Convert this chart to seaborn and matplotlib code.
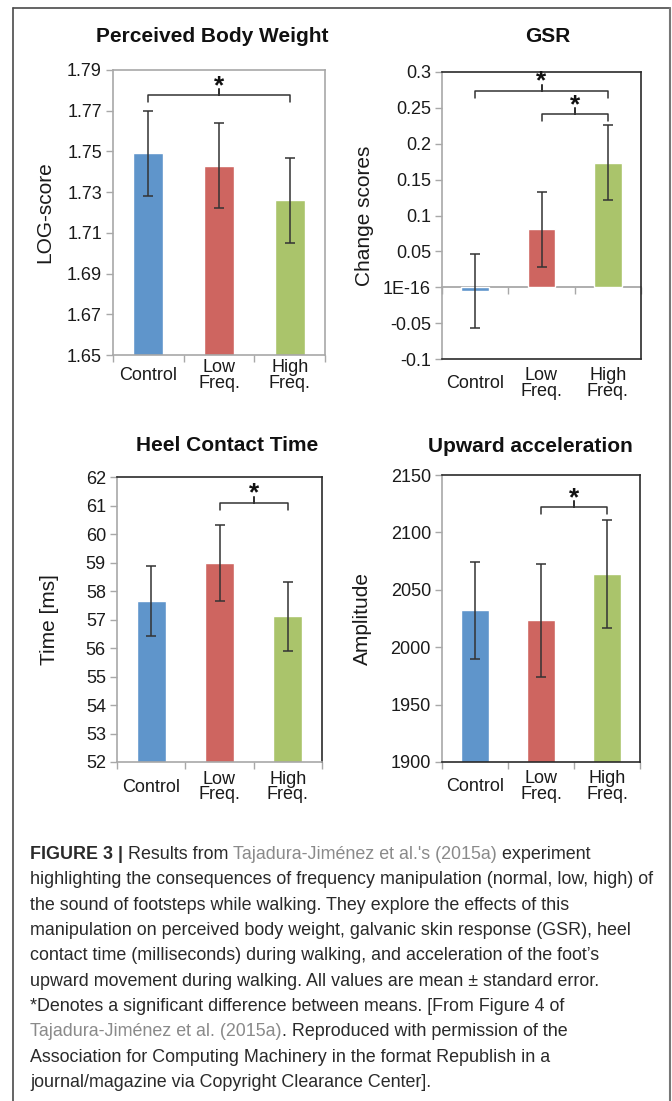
import matplotlib
matplotlib.use("Agg")
import matplotlib.pyplot as plt
import seaborn as sns
from matplotlib.lines import Line2D
from matplotlib.text import Annotation
from matplotlib.ticker import FixedLocator, FixedFormatter

# ---------------- data ----------------
categories = ["Control", "Low\nFreq.", "High\nFreq."]
bar_colors = ["#5F95CB", "#CE6560", "#AAC46B"]

pbw_means = [1.749, 1.743, 1.726]
pbw_err = [0.021, 0.021, 0.021]
pbw_ticks = [1.65, 1.67, 1.69, 1.71, 1.73, 1.75, 1.77, 1.79]
pbw_ticklabels = ["1.65", "1.67", "1.69", "1.71", "1.73", "1.75", "1.77", "1.79"]
pbw_brackets = [(0, 2, 1.7775)]

gsr_means = [-0.005, 0.0805, 0.1735]
gsr_err = [0.052, 0.052, 0.052]
gsr_ticks = [-0.1, -0.05, 0.0, 0.05, 0.1, 0.15, 0.2, 0.25, 0.3]
gsr_ticklabels = ["-0.1", "-0.05", "1E-16", "0.05", "0.1", "0.15", "0.2", "0.25", "0.3"]
gsr_brackets = [(0, 2, 0.274), (1, 2, 0.241)]

hct_means = [57.65, 58.99, 57.11]
hct_err = [1.22, 1.33, 1.20]
hct_ticks = [52, 53, 54, 55, 56, 57, 58, 59, 60, 61, 62]
hct_ticklabels = [str(t) for t in hct_ticks]
hct_brackets = [(1, 2, 61.1)]

upa_means = [2032.0, 2023.4, 2063.8]
upa_err = [42.4, 49.2, 46.7]
upa_ticks = [1900, 1950, 2000, 2050, 2100, 2150]
upa_ticklabels = [str(t) for t in upa_ticks]
upa_brackets = [(1, 2, 2122)]

titles = ["Perceived Body Weight", "GSR", "Heel Contact Time", "Upward acceleration"]
ylabels = ["LOG-score", "Change scores", "Time [ms]", "Amplitude"]

caption_lines = [
    [("FIGURE 3 |", "bold", "dark"), (" Results from ", "normal", "dark"),
     ("Tajadura-Jiménez et al.'s (2015a)", "normal", "link"), (" experiment", "normal", "dark")],
    [("highlighting the consequences of frequency manipulation (normal, low, high) of", "normal", "dark")],
    [("the sound of footsteps while walking. They explore the effects of this", "normal", "dark")],
    [("manipulation on perceived body weight, galvanic skin response (GSR), heel", "normal", "dark")],
    [("contact time (milliseconds) during walking, and acceleration of the foot\u2019s", "normal", "dark")],
    [("upward movement during walking. All values are mean \u00b1 standard error.", "normal", "dark")],
    [("*Denotes a significant difference between means. [From Figure 4 of", "normal", "dark")],
    [("Tajadura-Jiménez et al. (2015a)", "normal", "link"), (". Reproduced with permission of the", "normal", "dark")],
    [("Association for Computing Machinery in the format Republish in a", "normal", "dark")],
    [("journal/magazine via Copyright Clearance Center].", "normal", "dark")],
]

# ---------------- style ----------------
sns.set_theme(style="white")
plt.rcParams["font.family"] = ["Liberation Sans", "DejaVu Sans"]

W, H = 672, 1101
fig = plt.figure(figsize=(W / 100, H / 100), dpi=100)
fig.patch.set_facecolor("white")

AX_GRAY = "#A8A8A8"
DARK = "#2b2b2b"
TXT = "#1a1a1a"


def add_ax(l, t, r, b):
    return fig.add_axes([l / W, 1 - b / H, (r - l) / W, (b - t) / H])


def panel(ax, means, errs, ylim, ticks, ticklabels, ylabel, title, title_xy,
          ylabel_x, brackets, xpad, spine_cols, zero_axis=False):
    sns.barplot(x=categories, y=means, hue=categories, palette=bar_colors,
                saturation=1, width=0.42, legend=False, ax=ax, zorder=2)
    ax.errorbar(range(len(means)), means, yerr=errs, fmt="none", ecolor="#333333",
                elinewidth=1.1, capsize=3.5, capthick=1.1, zorder=3)
    ax.set_xlim(-0.5, len(categories) - 0.5)
    ax.set_ylim(*ylim)
    ax.yaxis.set_major_locator(FixedLocator(ticks))
    ax.yaxis.set_major_formatter(FixedFormatter(ticklabels))
    ax.tick_params(axis="y", which="major", length=5, width=1, color=AX_GRAY,
                   labelsize=13, labelcolor=TXT, pad=3, left=True, direction="out")
    ax.set_xlabel("")
    ax.tick_params(axis="x", which="major", length=0, labelsize=13,
                   labelcolor=TXT, pad=xpad)
    for lab in ax.get_xticklabels():
        lab.set_verticalalignment("center")
        lab.set_linespacing(0.92)
    bounds = [i - 0.5 for i in range(len(categories) + 1)]
    if zero_axis:
        sec = ax.secondary_xaxis((0 - ylim[0]) / (ylim[1] - ylim[0]))
        sec.spines["bottom"].set_color(AX_GRAY)
        sec.spines["bottom"].set_linewidth(1.3)
        sec.set_xticks(bounds)
        sec.set_xticklabels([""] * len(bounds))
        sec.tick_params(axis="x", length=5, width=1, color=AX_GRAY, direction="out")
    else:
        ax.xaxis.set_minor_locator(FixedLocator(bounds))
        ax.tick_params(axis="x", which="minor", length=5, width=1, color=AX_GRAY,
                       bottom=True, direction="out")
    for side, col in zip(["left", "bottom", "top", "right"], spine_cols):
        ax.spines[side].set_visible(True)
        ax.spines[side].set_color(col)
        ax.spines[side].set_linewidth(1.2)
    ax.set_ylabel(ylabel, fontsize=15, color=TXT)
    ax.yaxis.set_label_coords(ylabel_x, 0.5)
    ax.yaxis.label.set_verticalalignment("center")
    ax.text(title_xy[0], title_xy[1], title, transform=ax.transAxes, ha="center",
            va="center", fontsize=15, fontweight="bold", color="#111111")
    # significance brackets
    ax_h_px = ax.get_position().height * H
    yr = ylim[1] - ylim[0]
    drop = 7 / ax_h_px * yr
    tip = 6 / ax_h_px * yr
    for x0, x1, yb in brackets:
        xm = (x0 + x1) / 2
        ax.plot([x0, x0, xm, xm, xm, x1, x1],
                [yb - drop, yb, yb, yb + tip, yb, yb, yb - drop],
                color="#333333", lw=1.1, solid_joinstyle="round", zorder=4,
                clip_on=False)
        ax.annotate("*", xy=(xm, yb), xytext=(0, 2), textcoords="offset pixels",
                    ha="center", va="baseline", fontsize=19, fontweight="bold",
                    color="#111111")


ax1 = add_ax(113, 70, 325, 355)
panel(ax1, pbw_means, pbw_err, (1.65, 1.79), pbw_ticks, pbw_ticklabels,
      ylabels[0], titles[0], (0.467, 1.116), -0.32, pbw_brackets, 15,
      [AX_GRAY, AX_GRAY, AX_GRAY, AX_GRAY])

ax2 = add_ax(442, 72, 641, 359)
panel(ax2, gsr_means, gsr_err, (-0.1, 0.3), gsr_ticks, gsr_ticklabels,
      ylabels[1], titles[1], (0.53, 1.122), -0.39, gsr_brackets, 17.8,
      [AX_GRAY, DARK, DARK, DARK], zero_axis=True)

ax3 = add_ax(117, 477, 322, 762)
panel(ax3, hct_means, hct_err, (52, 62), hct_ticks, hct_ticklabels,
      ylabels[2], titles[2], (0.537, 1.109), -0.327, hct_brackets, 18,
      [AX_GRAY, AX_GRAY, DARK, DARK])

ax4 = add_ax(442, 475, 640, 762)
panel(ax4, upa_means, upa_err, (1900, 2150), upa_ticks, upa_ticklabels,
      ylabels[3], titles[3], (0.444, 1.101), -0.40, upa_brackets, 17.5,
      [AX_GRAY, DARK, DARK, DARK])

# ---------------- outer frame ----------------
frame_col = "#4a4a4a"
fig.add_artist(Line2D([13 / W, 13 / W], [-0.01, 1 - 8 / H], transform=fig.transFigure,
                      color=frame_col, lw=1.2))
fig.add_artist(Line2D([13 / W, 670 / W], [1 - 8 / H, 1 - 8 / H], transform=fig.transFigure,
                      color=frame_col, lw=1.2))
fig.add_artist(Line2D([670 / W, 670 / W], [-0.01, 1 - 8 / H], transform=fig.transFigure,
                      color="#777777", lw=1.5))

# ---------------- caption ----------------
cap_cols = {"dark": "#2a2a2a", "link": "#8a8a8a"}
cap_size = 12.9
y0 = 859
step = 25.35
for i, segs in enumerate(caption_lines):
    yb = 1 - (y0 + i * step) / H
    last = None
    for text, weight, col in segs:
        if last is None:
            last = fig.text(30 / W, yb, text, fontsize=cap_size, fontweight=weight,
                            color=cap_cols[col], ha="left", va="baseline")
        else:
            last = fig.add_artist(Annotation(
                text, xy=(1, 0), xycoords=last, fontsize=cap_size, fontweight=weight,
                color=cap_cols[col], ha="left", va="bottom"))

fig.savefig("out.png", dpi=100, facecolor="white")
